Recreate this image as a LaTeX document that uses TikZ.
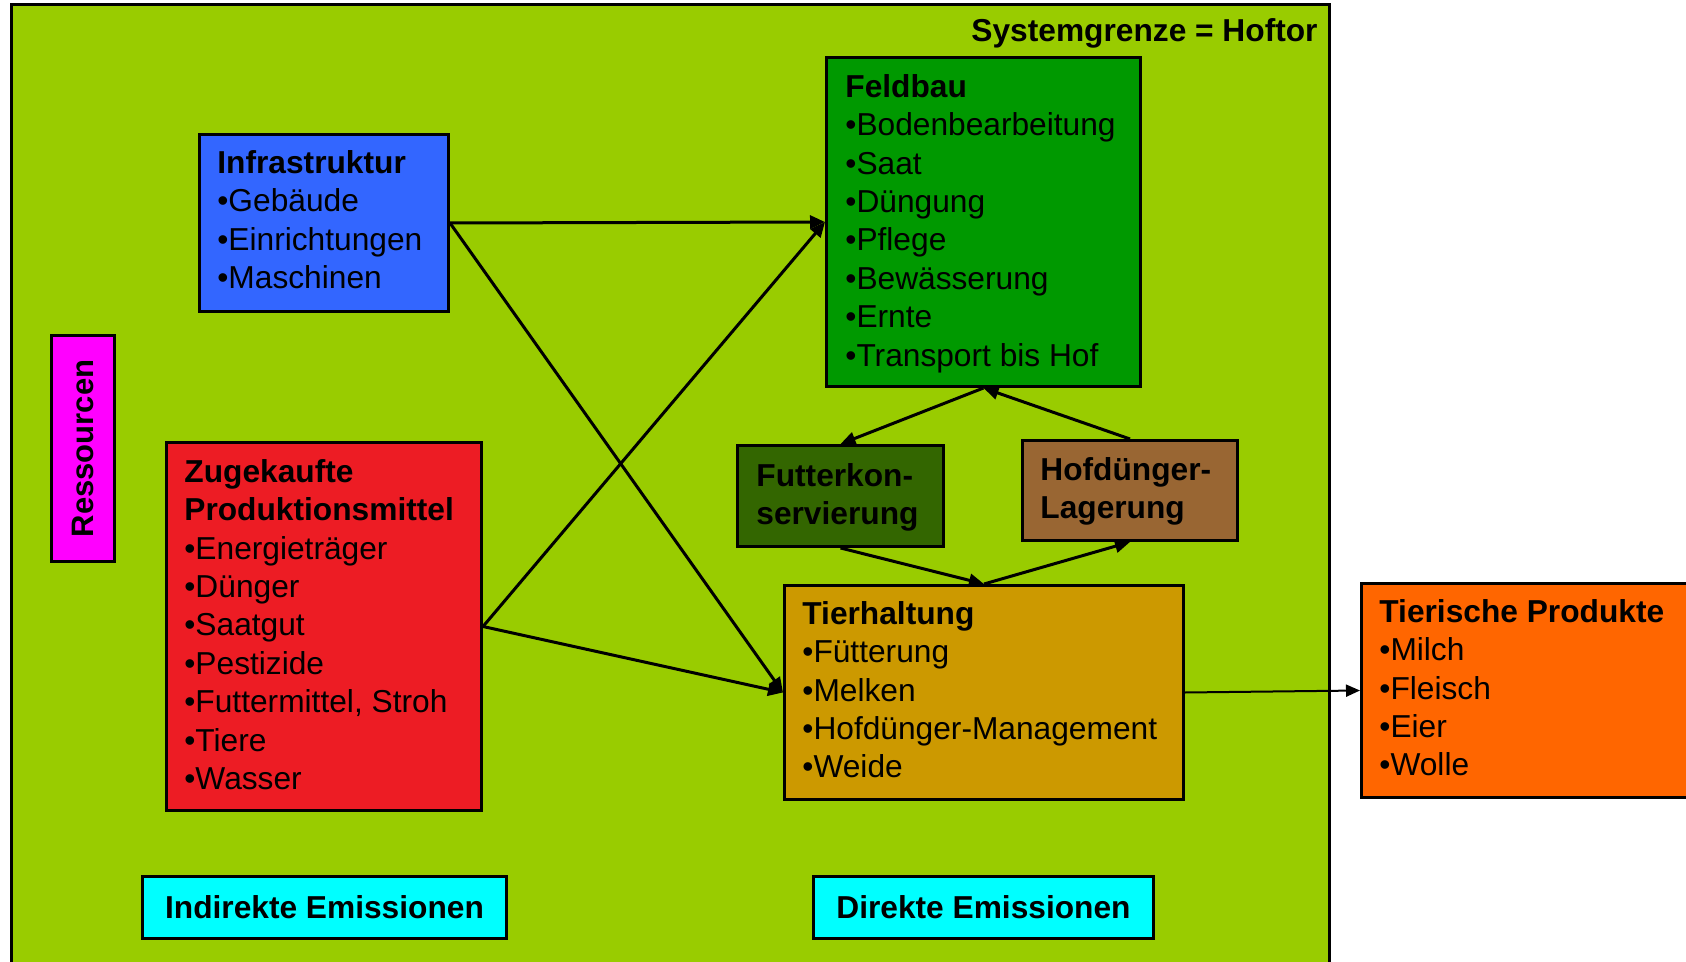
\documentclass[tikz,border=0pt]{standalone}
\usepackage{fontspec}
\setmainfont{Liberation Sans}
\usetikzlibrary{arrows.meta}
\definecolor{hofgreen}{HTML}{99CC00}
\definecolor{infrablue}{HTML}{3366FF}
\definecolor{resmag}{HTML}{FF00FF}
\definecolor{zured}{HTML}{ED1C24}
\definecolor{feldgreen}{HTML}{009900}
\definecolor{futtergreen}{HTML}{336600}
\definecolor{hofbrown}{HTML}{996633}
\definecolor{tierochre}{HTML}{CC9900}
\definecolor{prodorange}{HTML}{FF6600}
\definecolor{emcyan}{HTML}{00FFFF}
\tikzset{
  box/.style={draw=black, line width=1.5pt, inner sep=0pt, anchor=north west},
  txt/.style={anchor=north west, inner sep=0pt, align=left, font=\fontsize{15.85}{19.2}\selectfont},
  conn/.style={line width=1.5pt, -{Triangle[length=7.5pt,width=6.5pt]}},
  thinconn/.style={line width=1pt, -{Triangle[length=7pt,width=6pt]}},
}
\begin{document}
\begin{tikzpicture}[x=0.5pt,y=-0.5pt]
\path[use as bounding box, clip] (0,0) rectangle (1686,962);
% system boundary
\draw[fill=hofgreen, line width=1.5pt] (11,5) rectangle (1329,990);
\node[anchor=north east, inner sep=0pt, font=\fontsize{15.85}{19.2}\selectfont\bfseries] (title) at (1318,18) {Systemgrenze = Hoftor};

% boxes
\node[box, fill=infrablue, minimum width=124.5pt, minimum height=88.5pt] (infra) at (198,133) {};
\node[box, fill=resmag, minimum width=31.5pt, minimum height=113pt] (res) at (50,334) {};
\node[box, fill=zured, minimum width=157.5pt, minimum height=184pt] (zukauf) at (165,441) {};
\node[box, fill=feldgreen, minimum width=157pt, minimum height=164.5pt] (feld) at (825,56) {};
\node[box, fill=futtergreen, minimum width=103pt, minimum height=50.5pt] (futter) at (736,444) {};
\node[box, fill=hofbrown, minimum width=107.5pt, minimum height=50pt] (hofd) at (1021,439) {};
\node[box, fill=tierochre, minimum width=199.5pt, minimum height=107pt] (tier) at (783,584) {};
\node[box, fill=prodorange, minimum width=179.5pt, minimum height=107pt] (prod) at (1360,582) {};
\node[box, fill=emcyan, minimum width=182pt, minimum height=31pt, font=\fontsize{15.85}{19.2}\selectfont\bfseries] (indir) at (141,875) {Indirekte Emissionen};
\node[box, fill=emcyan, minimum width=170pt, minimum height=31pt, font=\fontsize{15.85}{19.2}\selectfont\bfseries] (dir) at (812,875) {Direkte Emissionen};

% texts
\node[txt] (infratxt) at ([shift={(19,17)}]infra.north west) {\textbf{Infrastruktur}\\•Gebäude\\•Einrichtungen\\•Maschinen};
\node[rotate=90, inner sep=0pt, font=\fontsize{15.5}{19}\selectfont\bfseries] (restxt) at (res.center) {Ressourcen};
\node[txt] (zukauftxt) at ([shift={(19,18)}]zukauf.north west) {\textbf{Zugekaufte}\\\textbf{Produktionsmittel}\\•Energieträger\\•Dünger\\•Saatgut\\•Pestizide\\•Futtermittel, Stroh\\•Tiere\\•Wasser};
\node[txt] (feldtxt) at ([shift={(20,18)}]feld.north west) {\textbf{Feldbau}\\•Bodenbearbeitung\\•Saat\\•Düngung\\•Pflege\\•Bewässerung\\•Ernte\\•Transport bis Hof};
\node[txt, font=\fontsize{15.85}{19.2}\selectfont\bfseries] (futtertxt) at ([shift={(20,19)}]futter.north west) {Futterkon-\\servierung};
\node[txt, font=\fontsize{15.85}{19.2}\selectfont\bfseries] (hofdtxt) at ([shift={(19,18)}]hofd.north west) {Hofdünger-\\Lagerung};
\node[txt] (tiertxt) at ([shift={(19,17)}]tier.north west) {\textbf{Tierhaltung}\\•Fütterung\\•Melken\\•Hofdünger-Management\\•Weide};
\node[txt] (prodtxt) at ([shift={(19,17)}]prod.north west) {\textbf{Tierische Produkte}\\•Milch\\•Fleisch\\•Eier\\•Wolle};

% connectors
\draw[conn] (infra.east) -- (feld.west);
\draw[conn] (infra.east) -- (tier.west);
\draw[conn] (zukauf.east) -- (feld.west);
\draw[conn] (zukauf.east) -- (tier.west);
\draw[conn] (feld.south) -- (futter.north);
\draw[conn] (hofd.north) -- (feld.south);
\draw[conn] (futter.south) -- (tier.north);
\draw[conn] (tier.north) -- (hofd.south);
\draw[thinconn] (tier.east) -- (prod.west);
\end{tikzpicture}
\end{document}
